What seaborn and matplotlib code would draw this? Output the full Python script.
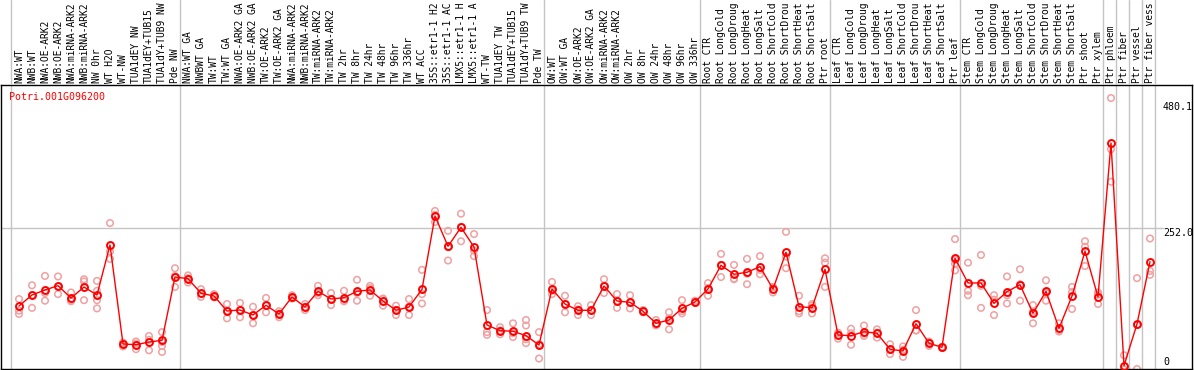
import numpy as np
import pandas as pd
import matplotlib
matplotlib.use("Agg")
import matplotlib.pyplot as plt
import seaborn as sns

gene = "Potri.001G096200"

# sample names as shown in the header (long ones are cut short there)
samples = [
    "NWA:WT", "NWB:WT", "NWA:OE-ARK2", "NWB:OE-ARK2", "NWA:miRNA-ARK2", "NWB:miRNA-ARK2",
    "NW 0hr", "WT H2O", "WT-NW", "TUA1dEY NW", "TUA1dEY+TUB15", "TUA1dY+TUB9 NW", "Pde NW",
    "NWA:WT GA", "NWBWT GA", "TW:WT", "TW:WT GA", "NWA:OE-ARK2 GA", "NWB:OE-ARK2 GA",
    "TW:OE-ARK2", "TW:OE-ARK2 GA", "NWA:miRNA-ARK2", "NWB:miRNA-ARK2", "TW:miRNA-ARK2",
    "TW:miRNA-ARK2", "TW 2hr", "TW 8hr", "TW 24hr", "TW 48hr", "TW 96hr", "TW 336hr",
    "WT ACC", "35S::etr1-1 H2", "35S::etr1-1 AC", "LMX5::etr1-1 H", "LMX5::etr1-1 A",
    "WT-TW", "TUA1dEY TW", "TUA1dEY+TUB15", "TUA1dY+TUB9 TW", "Pde TW",
    "OW:WT", "OW:WT GA", "OW:OE-ARK2", "OW:OE-ARK2 GA", "OW:miRNA-ARK2", "OW:miRNA-ARK2",
    "OW 2hr", "OW 8hr", "OW 24hr", "OW 48hr", "OW 96hr", "OW 336hr",
    "Root CTR", "Root LongCold", "Root LongDroug", "Root LongHeat", "Root LongSalt",
    "Root ShortCold", "Root ShortDrou", "Root ShortHeat", "Root ShortSalt", "Ptr root",
    "Leaf CTR", "Leaf LongCold", "Leaf LongDroug", "Leaf LongHeat", "Leaf LongSalt",
    "Leaf ShortCold", "Leaf ShortDrou", "Leaf ShortHeat", "Leaf ShortSalt", "Ptr leaf",
    "Stem CTR", "Stem LongCold", "Stem LongDroug", "Stem LongHeat", "Stem LongSalt",
    "Stem ShortCold", "Stem ShortDrou", "Stem ShortHeat", "Stem ShortSalt", "Ptr shoot",
    "Ptr xylem", "Ptr phloem", "Ptr fiber", "Ptr vessel", "Ptr fiber vess",
]

# mean expression per sample
means = [
    110.4, 130.4, 139.5, 147.3, 124.9, 144.9, 130.4, 221.2, 41.4, 40.1, 45.0, 48.1, 163.1,
    160.0, 133.5, 128.6, 101.3, 103.1, 94.1, 111.7, 95.9, 126.8, 108.6, 137.1, 123.1, 125.5,
    137.1, 139.5, 119.5, 102.6, 108.6, 140.7, 273.8, 218.8, 253.3, 217.5, 75.9, 65.6, 64.5,
    56.5, 39.6,
    141.3, 114.0, 102.6, 102.6, 146.7, 119.5, 117.1, 100.8, 79.0, 85.0, 106.2, 117.7,
    141.3, 184.3, 168.0, 171.6, 181.8, 141.3, 207.9, 109.1, 107.3, 177.1,
    57.7, 56.5, 63.7, 60.8, 31.8, 28.7, 78.3, 42.7, 35.4, 197.0,
    152.2, 152.2, 115.3, 136.4, 149.1, 97.1, 137.1, 69.9, 128.6, 209.7,
    126.8, 406.4, 2.0, 77.7, 190.9,
]

# individual replicates per sample
replicates = [
    [123, 102, 96], [148, 107, 130], [165, 120, 134], [164, 132, 146], [135, 119, 121],
    [159, 155, 121], [156, 138, 106, 121], [261, 209, 196], [37, 44, 43], [46, 32, 42],
    [56, 30, 49], [63, 45, 38, 27], [179, 145, 165],
    [166, 153, 161], [141, 127, 133], [132, 126, 128], [114, 88, 102], [116, 90, 103],
    [109, 79, 94], [125, 99, 111], [101, 90, 97], [130, 124, 127], [114, 103, 109],
    [147, 130, 134], [134, 112, 123], [138, 119, 120], [158, 120, 134], [147, 129, 143],
    [124, 111, 123], [111, 94, 103], [123, 94, 109], [176, 132, 115], [283, 263, 276],
    [247, 193, 217], [278, 228, 254], [241, 201, 211], [103, 63, 58], [72, 59, 66],
    [79, 54, 61], [85, 75, 50, 43], [63, 15, 41],
    [154, 132, 138], [129, 99, 114], [110, 94, 104], [112, 94, 102], [159, 134, 147],
    [132, 107, 120], [130, 106, 116], [103, 99, 101], [85, 77, 75], [99, 68, 88],
    [121, 97, 101], [120, 116, 117],
    [152, 129, 143], [205, 163, 185], [185, 159, 160], [196, 150, 169], [201, 168, 176],
    [145, 135, 144], [245, 179, 200], [129, 97, 101], [114, 97, 111], [197, 189, 145],
    [51, 60, 62], [69, 40, 61], [75, 56, 60], [68, 53, 62], [41, 23, 31], [37, 18, 31],
    [103, 66, 66], [38, 44, 46], [34, 36, 36], [232, 175, 187, 194],
    [189, 138, 130], [203, 147, 107], [130, 94, 122], [164, 115, 130], [177, 120, 150],
    [112, 79, 100], [157, 120, 134], [79, 64, 67], [145, 105, 136], [228, 218, 183],
    [135, 114, 131], [488, 395, 336], [21, -5], [161, -4, 76], [233, 174, 167],
]

# first sample index of each group (separators are drawn before these)
group_starts = [0, 13, 41, 53, 63, 73, 84, 85, 86, 87, 88]
ref_values = [480.1, 252.0]

sns.set_style("white")
plt.rcParams["font.family"] = ["DejaVu Sans Mono", "DejaVu Sans"]

df_mean = pd.DataFrame({"pos": np.arange(len(samples)), "sample": samples, "value": means})
rows = []
for i, reps in enumerate(replicates):
    for v in reps:
        rows.append((i, v))
df_rep = pd.DataFrame(rows, columns=["pos", "value"])

W, H = 1194, 370
fig = plt.figure(figsize=(W / 100, H / 100), dpi=100)
ax = fig.add_axes([1 / W, 1 / H, 1191 / W, 284 / H])
hdr = fig.add_axes([1 / W, 285 / H, 1191 / W, 85 / H])

xlim = ((1 - 19) / 13, (1192 - 19) / 13)
grid_col = "#c4c4c4"

for k in group_starts:
    ax.axvline(k - 0.6, color=grid_col, lw=1, zorder=0)
    hdr.axvline(k - 0.6, color=grid_col, lw=1, zorder=0)
ax.axhline(252.0, xmin=0, xmax=(1163 - 1) / 1191, color=grid_col, lw=1, zorder=0)

sns.scatterplot(data=df_rep, x="pos", y="value", ax=ax, marker="o", s=22,
                facecolor="none", edgecolor="#f0a0a0", linewidth=1.1, zorder=2, legend=False)
sns.lineplot(data=df_mean, x="pos", y="value", ax=ax, color="red", linewidth=1,
             marker="o", markersize=5, markerfacecolor="none", markeredgecolor="red",
             markeredgewidth=1.4, zorder=3, legend=False)

ax.set_xlim(*xlim)
ax.set_ylim(-4, 511.7)
ax.set_xticks([])
ax.set_yticks([])
ax.set(xlabel="", ylabel="")
for sp in ax.spines.values():
    sp.set_color("black")
    sp.set_linewidth(1)
    sp.set_visible(True)

label_x = (1163 - 19) / 13
for v in ref_values:
    ax.text(label_x, v, f"{v:.1f}", ha="left", va="top", fontsize=7.2, color="black")
ax.text(label_x, 0, "0", ha="left", va="bottom", fontsize=7.2, color="black")

ax.text(8 / 1191, 1 - 12 / 284, gene, color="red", transform=ax.transAxes,
        ha="left", va="center", fontsize=7.2)

hdr.set_xlim(*xlim)
hdr.set_ylim(0, 1)
hdr.axis("off")
for i, s in enumerate(samples):
    hdr.text(i, 0.02, s, rotation=90, ha="center", va="bottom", fontsize=6.9,
             color="black", clip_on=True)

fig.savefig("out.png", dpi=100)
